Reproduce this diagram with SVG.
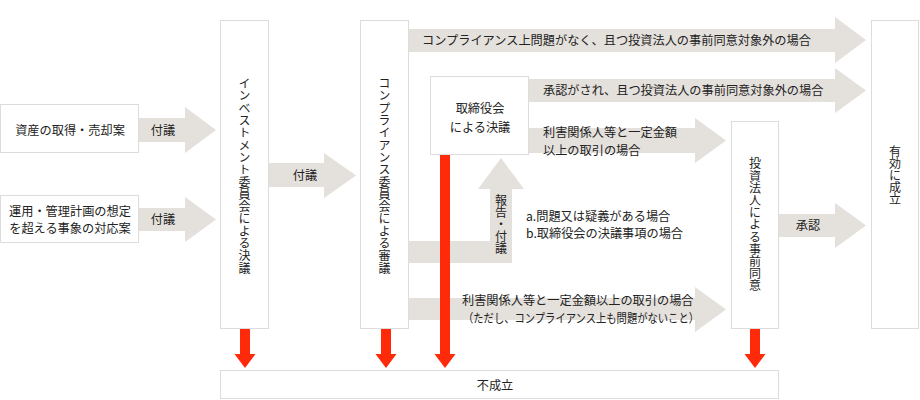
<svg xmlns="http://www.w3.org/2000/svg" width="920" height="400" viewBox="0 0 920 400">
<defs>
<style>
text{font-family:"Noto Sans CJK JP","Noto Sans",sans-serif;font-size:12.2px;fill:#222;dominant-baseline:central}
.box{fill:#fff;stroke:#dcdcdc;stroke-width:1}
.ga{fill:#e4e0dc}
.ra{fill:#ff2a0a}
.v{writing-mode:vertical-rl;text-anchor:middle;font-size:12px}
.m{text-anchor:middle}
</style>
</defs>
<rect width="920" height="400" fill="#fff"/>
<g id="connectors">
<polygon class="ga" points="139,118 185,118 185,107 216,130 185,153 185,142 139,142"/>
<text class="m" x="163" y="130">付議</text>
<polygon class="ga" points="139,208 185,208 185,197 216,219.5 185,242 185,231 139,231"/>
<text class="m" x="163" y="219">付議</text>
<polygon class="ga" points="269,163 324,163 324,153 356,175.5 324,198 324,187 269,187"/>
<text class="m" x="305" y="175">付議</text>
<polygon class="ga" points="409,29 835,29 835,17 866,40 835,63 835,52 409,52"/>
<text x="422" y="40">コンプライアンス上問題がなく、且つ投資法人の事前同意対象外の場合</text>
<polygon class="ga" points="529,79 835,79 835,68 866,90.5 835,113 835,102 529,102"/>
<text x="543" y="90">承認がされ、且つ投資法人の事前同意対象外の場合</text>
<polygon class="ga" points="529,128 695,128 695,118 726,140.5 695,163 695,153 529,153"/>
<text x="543" y="132">利害関係人等と一定金額</text>
<text x="543" y="150">以上の取引の場合</text>
<polygon class="ga" points="409,241 490,241 490,189 478,189 501,158 524,189 512,189 512,263 409,263"/>
<text class="v" x="501" y="224">報告・付議</text>
<text x="526" y="216">a.問題又は疑義がある場合</text>
<text x="526" y="233">b.取締役会の決議事項の場合</text>
<polygon class="ga" points="409,298 695,298 695,287 726,309.5 695,332 695,320 409,320"/>
<text x="462" y="300">利害関係人等と一定金額以上の取引の場合</text>
<text x="463" y="318" textLength="236" lengthAdjust="spacingAndGlyphs">（ただし、コンプライアンス上も問題がないこと）</text>
<polygon class="ga" points="779,214 835,214 835,203 866,225.5 835,248 835,237 779,237"/>
<text class="m" x="808" y="225">承認</text>
<polygon class="ra" points="240,329 250,329 250,354 255.5,354 245,368 234.5,354 240,354"/>
<polygon class="ra" points="381,329 391,329 391,354 396.5,354 386,368 375.5,354 381,354"/>
<polygon class="ra" points="440,155 450,155 450,354 455.5,354 445,368 434.5,354 440,354"/>
<polygon class="ra" points="750,329 760,329 760,354 765.5,354 755,368 744.5,354 750,354"/>
</g>
<g id="node-asset">
<rect class="box" x="0.5" y="104.5" width="138" height="48"/>
<text class="m" x="70" y="130">資産の取得・売却案</text>
</g>
<g id="node-plan">
<rect class="box" x="0.5" y="195.5" width="138" height="47"/>
<text class="m" x="70" y="211">運用・管理計画の想定</text>
<text class="m" x="70" y="228">を超える事象の対応案</text>
</g>
<g id="node-invest">
<rect class="box" x="220.5" y="20.5" width="48" height="308"/>
<text class="v" x="244.5" y="176" style="letter-spacing:0.3px">インベストメント委員会による決議</text>
</g>
<g id="node-compliance">
<rect class="box" x="360.5" y="20.5" width="48" height="308"/>
<text class="v" x="384.5" y="176" style="letter-spacing:0.3px">コンプライアンス委員会による審議</text>
</g>
<g id="node-board">
<rect class="box" x="430.5" y="76.5" width="98" height="78"/>
<text class="m" x="480" y="108">取締役会</text>
<text class="m" x="480" y="127">による決議</text>
</g>
<g id="node-consent">
<rect class="box" x="731.5" y="121.5" width="47" height="207"/>
<text class="v" x="755" y="225" style="letter-spacing:0.2px">投資法人による事前同意</text>
</g>
<g id="node-valid">
<rect class="box" x="871.5" y="20.5" width="47" height="308"/>
<text class="v" x="895" y="175">有効に成立</text>
</g>
<g id="node-fail">
<rect class="box" x="220.5" y="370.5" width="558" height="28"/>
<text class="m" x="495" y="385">不成立</text>
</g>
</svg>
